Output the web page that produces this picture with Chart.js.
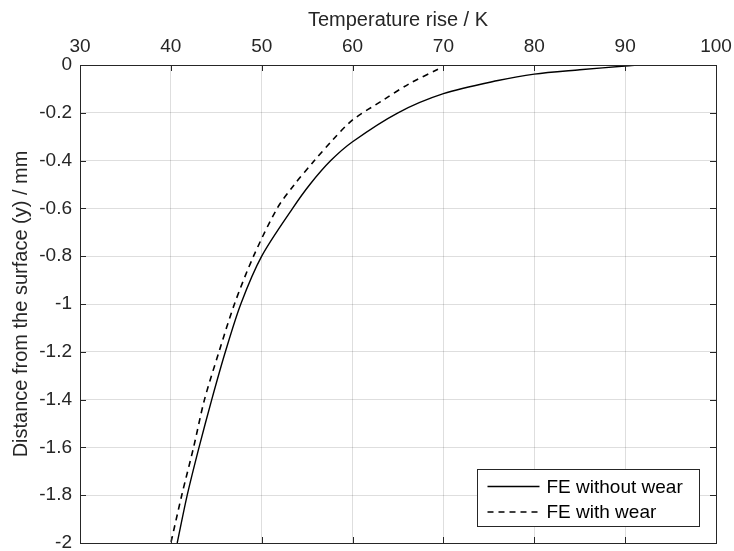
<!DOCTYPE html>
<html>
<head>
<meta charset="utf-8">
<script src="https://cdn.jsdelivr.net/npm/chart.js@4/dist/chart.umd.min.js"></script>
<style>
  html, body { margin: 0; padding: 0; background: #fff; }
  #chart-1 { display: block; }
</style>
</head>
<body>
<canvas id="chart-1" width="734" height="551"></canvas>
<script>
// temperature rise (K) vs depth below the surface (mm)
const depthNoWear = [0, -0.004, -0.02, -0.038, -0.065, -0.12, -0.2, -0.321, -0.4, -0.5, -0.6, -0.8, -1.0, -1.2, -1.4, -1.6, -1.8, -2.0];
const tempNoWear  = [91.5, 90, 85, 80, 76, 70, 65.0, 60, 57.6, 55.3, 53.4, 50.0, 47.7, 46.0, 44.5, 43.1, 41.8, 40.7];

const depthWear = [-0.018, -0.077, -0.146, -0.23, -0.314, -0.4, -0.5, -0.6, -0.8, -1.0, -1.2, -1.4, -1.6, -1.8, -2.0];
const tempWear  = [69.4, 66.3, 63.4, 60.0, 57.8, 55.8, 53.6, 51.7, 49.1, 47.0, 45.3, 43.7, 42.5, 41.2, 40.0];

const seriesNames = ["FE without wear", "FE with wear"];

const axisColor = "#262626";
const fontFamily = "'Liberation Sans', Arial, Helvetica, sans-serif";

function toPoints(xs, ys) {
  return xs.map((x, i) => ({ x: x, y: ys[i] }));
}

// box around the axes, inward tick marks and the legend in the lower right corner
const axesBox = {
  id: "axesBox",
  afterDatasetsDraw(chart) {
    const ctx = chart.ctx;
    const ca = chart.chartArea;
    const xs = chart.scales.x;
    const ys = chart.scales.y;
    const tl = 6;
    ctx.save();
    ctx.strokeStyle = axisColor;
    ctx.lineWidth = 1;
    ctx.beginPath();
    xs.ticks.forEach(t => {
      const px = Math.round(xs.getPixelForValue(t.value)) + 0.5;
      ctx.moveTo(px, ca.top); ctx.lineTo(px, ca.top + tl);
      ctx.moveTo(px, ca.bottom); ctx.lineTo(px, ca.bottom - tl);
    });
    ys.ticks.forEach(t => {
      const py = Math.round(ys.getPixelForValue(t.value)) + 0.5;
      ctx.moveTo(ca.left, py); ctx.lineTo(ca.left + tl, py);
      ctx.moveTo(ca.right, py); ctx.lineTo(ca.right - tl, py);
    });
    ctx.stroke();
    ctx.strokeRect(Math.round(ca.left) + 0.5, Math.round(ca.top) + 0.5,
      Math.round(ca.right - ca.left), Math.round(ca.bottom - ca.top));

    // legend
    const bw = 222, bh = 57;
    const bx = Math.round(ca.right - 17 - bw) + 0.5;
    const by = Math.round(ca.bottom - 17 - bh) + 0.5;
    ctx.fillStyle = "#fff";
    ctx.fillRect(bx, by, bw, bh);
    ctx.strokeRect(bx, by, bw, bh);
    ctx.font = "19px " + fontFamily;
    ctx.textBaseline = "middle";
    ctx.textAlign = "left";
    chart.data.datasets.forEach((ds, i) => {
      const cy = by + 17 + i * 25.5;
      ctx.strokeStyle = ds.borderColor;
      ctx.lineWidth = ds.borderWidth;
      ctx.setLineDash(ds.borderDash || []);
      ctx.beginPath();
      ctx.moveTo(bx + 10, cy);
      ctx.lineTo(bx + 62, cy);
      ctx.stroke();
      ctx.setLineDash([]);
      ctx.fillStyle = "#000";
      ctx.fillText(ds.label, bx + 69, cy + 1);
    });
    ctx.restore();
  }
};

const ctx1 = document.getElementById("chart-1").getContext("2d");
const myChart = new Chart(ctx1, {
  type: "line",
  data: {
    datasets: [
      {
        label: seriesNames[0],
        data: toPoints(tempNoWear, depthNoWear),
        borderColor: "#000",
        borderWidth: 1.4,
        pointRadius: 0,
        tension: 0.3,
        fill: false
      },
      {
        label: seriesNames[1],
        data: toPoints(tempWear, depthWear),
        borderColor: "#000",
        borderWidth: 1.6,
        borderDash: [6, 5],
        pointRadius: 0,
        tension: 0.3,
        fill: false
      }
    ]
  },
  options: {
    responsive: false,
    animation: false,
    layout: { padding: { left: 0, right: 18, top: 0, bottom: 8 } },
    plugins: {
      legend: { display: false },
      tooltip: { enabled: false }
    },
    scales: {
      x: {
        type: "linear",
        position: "top",
        min: 30,
        max: 100,
        afterFit(scale) {
          scale.height = 65;
          scale.paddingLeft = 0;
          scale.paddingRight = 0;
        },
        grid: { color: "rgba(0,0,0,0.13)", drawTicks: false },
        border: { display: false },
        ticks: {
          stepSize: 10,
          padding: 7,
          color: axisColor,
          font: { family: fontFamily, size: 19 }
        },
        title: {
          display: true,
          text: "Temperature rise / K",
          color: axisColor,
          font: { family: fontFamily, size: 20 },
          padding: { top: 8, bottom: 0 }
        }
      },
      y: {
        type: "linear",
        min: -2,
        max: 0,
        afterFit(scale) {
          scale.width = 80;
          scale.paddingTop = 0;
          scale.paddingBottom = 0;
        },
        grid: { color: "rgba(0,0,0,0.13)", drawTicks: false },
        border: { display: false },
        ticks: {
          stepSize: 0.2,
          padding: 8,
          color: axisColor,
          font: { family: fontFamily, size: 19 },
          callback: v => String(Number(v.toFixed(1)))
        },
        title: {
          display: true,
          text: "Distance from the surface (y) / mm",
          color: axisColor,
          font: { family: fontFamily, size: 20 },
          padding: { top: 9, bottom: 0 }
        }
      }
    }
  },
  plugins: [axesBox]
});
</script>
</body>
</html>
